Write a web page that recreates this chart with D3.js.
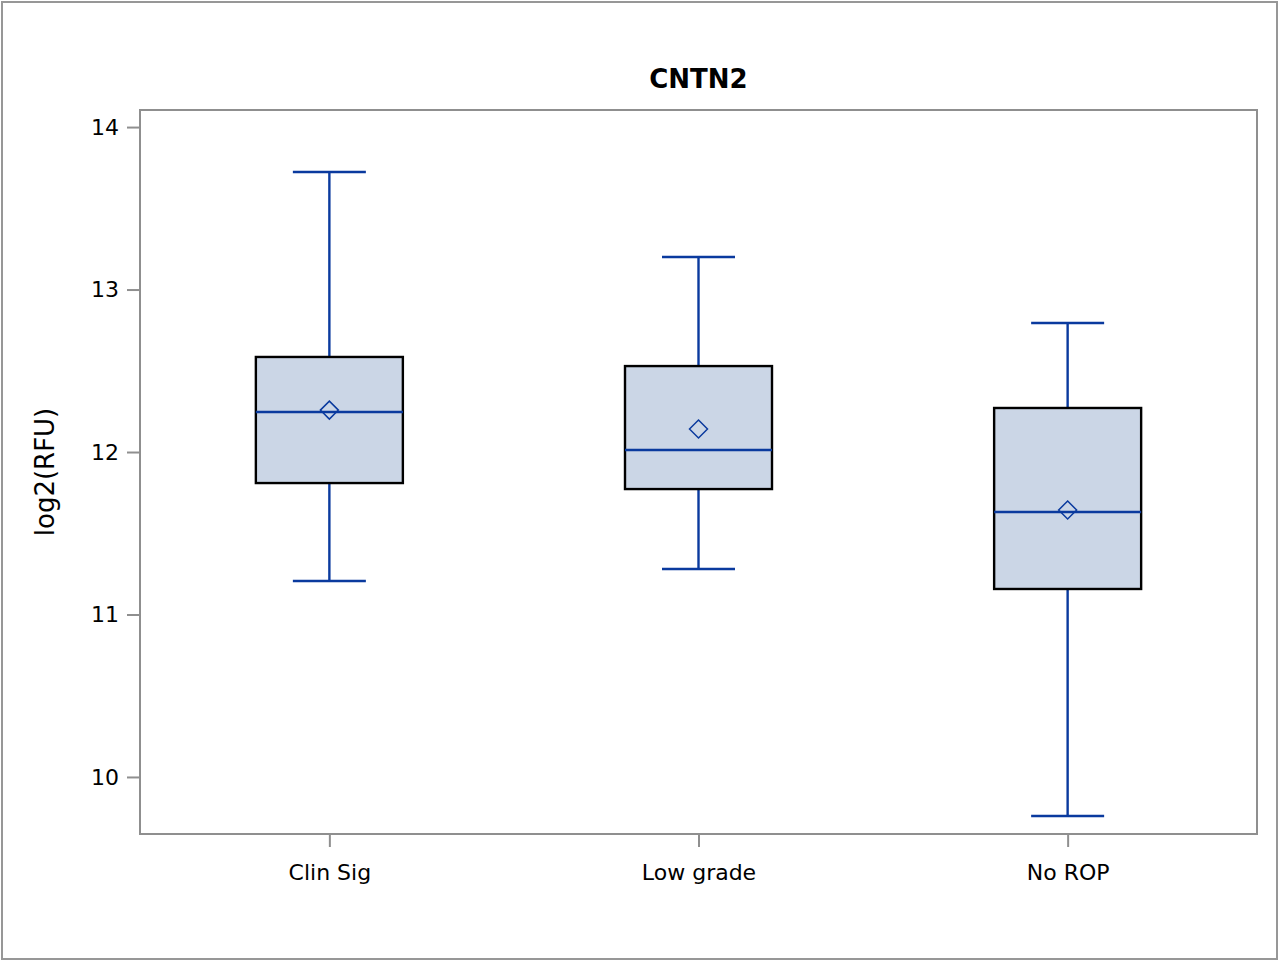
<!DOCTYPE html>
<html><head><meta charset="utf-8">
<script src="https://cdn.jsdelivr.net/npm/d3@7"></script>
<style>body{margin:0;background:#fff}svg{display:block}</style>
</head><body>
<svg id="c" width="1279" height="961"></svg>
<script>
const categories = ["Clin Sig", "Low grade", "No ROP"];
const whiskerLow = [11.206, 11.28, 9.76];
const q1 = [11.809, 11.772, 11.157];
const median = [12.246, 12.012, 11.631];
const q3 = [12.585, 12.529, 12.271];
const whiskerHigh = [13.723, 13.2, 12.794];
const means = [12.258, 12.142, 11.643];
const yTicks = [10, 11, 12, 13, 14];
const title = "CNTN2";
const yLabel = "log2(RFU)";

const svg = d3.select("#c");
const W = 1279, H = 961;
const m = {left: 140, right: 1257, top: 110, bottom: 834};
const blue = "#0a3a9e";
const font = "DejaVu Sans, Verdana, sans-serif";

svg.append("rect").attr("x", 2).attr("y", 2).attr("width", W - 4).attr("height", H - 4)
  .attr("fill", "#fff").attr("stroke", "#979797").attr("stroke-width", 2);

const x = d3.scalePoint().domain(categories).range([m.left, m.right]).padding(0.513);
const y = d3.scaleLinear().domain([9.649, 14.105]).range([m.bottom, m.top]);

// axes
const yAxis = svg.append("g").attr("transform", `translate(${m.left},0)`)
  .call(d3.axisLeft(y).tickValues(yTicks).tickSize(13).tickPadding(8).tickFormat(d3.format("d")));
const xAxis = svg.append("g").attr("transform", `translate(0,${m.bottom})`)
  .call(d3.axisBottom(x).tickSize(13).tickPadding(17));
[yAxis, xAxis].forEach(a => {
  a.select(".domain").remove();
  a.selectAll(".tick line").attr("stroke", "#8f8f8f").attr("stroke-width", 2);
  a.selectAll(".tick text").attr("fill", "#000").style("font-family", font).style("font-size", "22px");
});

// frame
svg.append("rect").attr("x", m.left).attr("y", m.top)
  .attr("width", m.right - m.left).attr("height", m.bottom - m.top)
  .attr("fill", "none").attr("stroke", "#8f8f8f").attr("stroke-width", 2);

const boxW = 147, capW = 73;
const data = categories.map((c, i) => ({c, lo: whiskerLow[i], q1: q1[i], med: median[i], q3: q3[i], hi: whiskerHigh[i], mean: means[i]}));
const g = svg.append("g").selectAll("g").data(data).join("g");
const lw = 2.4;

g.append("line").attr("x1", d => x(d.c)).attr("x2", d => x(d.c))
  .attr("y1", d => y(d.hi)).attr("y2", d => y(d.q3)).attr("stroke", blue).attr("stroke-width", lw);
g.append("line").attr("x1", d => x(d.c)).attr("x2", d => x(d.c))
  .attr("y1", d => y(d.q1)).attr("y2", d => y(d.lo)).attr("stroke", blue).attr("stroke-width", lw);
g.append("line").attr("x1", d => x(d.c) - capW / 2).attr("x2", d => x(d.c) + capW / 2)
  .attr("y1", d => y(d.hi)).attr("y2", d => y(d.hi)).attr("stroke", blue).attr("stroke-width", lw);
g.append("line").attr("x1", d => x(d.c) - capW / 2).attr("x2", d => x(d.c) + capW / 2)
  .attr("y1", d => y(d.lo)).attr("y2", d => y(d.lo)).attr("stroke", blue).attr("stroke-width", lw);
g.append("rect").attr("x", d => x(d.c) - boxW / 2).attr("width", boxW)
  .attr("y", d => y(d.q3)).attr("height", d => y(d.q1) - y(d.q3))
  .attr("fill", "#cbd6e6").attr("stroke", "#000").attr("stroke-width", 2.4);
g.append("line").attr("x1", d => x(d.c) - boxW / 2).attr("x2", d => x(d.c) + boxW / 2)
  .attr("y1", d => y(d.med)).attr("y2", d => y(d.med)).attr("stroke", blue).attr("stroke-width", lw);
g.append("path").attr("transform", d => `translate(${x(d.c)},${y(d.mean)})`)
  .attr("d", "M0,-9L9,0L0,9L-9,0Z").attr("fill", "none").attr("stroke", blue).attr("stroke-width", 1.5);

svg.append("text").attr("x", (m.left + m.right) / 2).attr("y", 88).attr("text-anchor", "middle")
  .style("font-family", font).style("font-size", "26px").style("font-weight", "bold").text(title);
svg.append("text").attr("transform", `translate(54,${(m.top + m.bottom) / 2}) rotate(-90)`)
  .attr("text-anchor", "middle").style("font-family", font).style("font-size", "26px").text(yLabel);
</script>
</body></html>
